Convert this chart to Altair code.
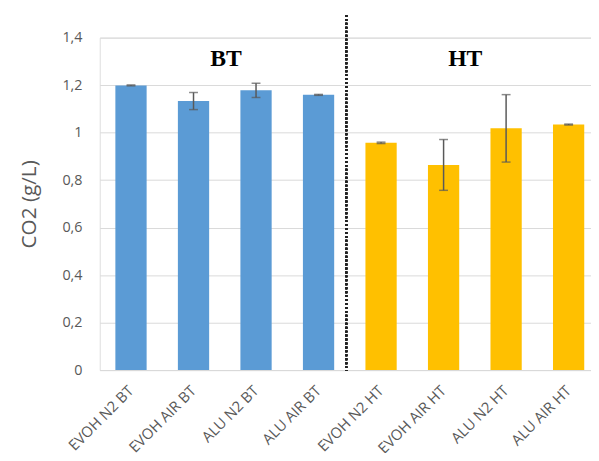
import altair as alt
import pandas as pd

categories = ["EVOH N2 BT", "EVOH AIR BT", "ALU N2 BT", "ALU AIR BT",
              "EVOH N2 HT", "EVOH AIR HT", "ALU N2 HT", "ALU AIR HT"]
groups = ["BT", "BT", "BT", "BT", "HT", "HT", "HT", "HT"]
co2 = [1.199, 1.133, 1.178, 1.159, 0.957, 0.864, 1.018, 1.034]
err = [0.002, 0.036, 0.030, 0.002, 0.003, 0.107, 0.142, 0.002]

group_labels = ["BT", "HT"]
group_label_cat = ["EVOH AIR BT", "EVOH AIR HT"]
group_label_y = [1.31, 1.31]

df = pd.DataFrame({"cat": categories, "grp": groups, "co2": co2, "err": err})
df["lo"] = df["co2"] - df["err"]
df["hi"] = df["co2"] + df["err"]

lab = pd.DataFrame({"txt": group_labels, "cat": group_label_cat, "y": group_label_y})

W, H = 507, 337
GRAY = "#595959"

xscale = alt.Scale(domain=categories, paddingInner=0.5, paddingOuter=0.25)
yscale = alt.Scale(domain=[0, 1.4], nice=False)

x = alt.X("cat:N", sort=categories, scale=xscale, title=None,
          axis=alt.Axis(labelAngle=-45, labelAlign="right", labelBaseline="middle",
                        labelPadding=18, ticks=False, domainColor="#d9d9d9",
                        labelColor=GRAY, labelFont="Open Sans", labelFontSize=15))

bars = alt.Chart(df).mark_bar().encode(
    x=x,
    y=alt.Y("co2:Q", scale=yscale, title="CO2 (g/L)",
            axis=alt.Axis(values=[0, 0.2, 0.4, 0.6, 0.8, 1.0, 1.2, 1.4],
                          labelExpr="replace(format(datum.value, '~g'), '.', ',')",
                          domain=False, ticks=False, gridColor="#d9d9d9",
                          labelPadding=18, labelColor=GRAY, labelFont="Open Sans",
                          labelFontSize=14.5, titleColor=GRAY, titleFont="Open Sans",
                          titleFontSize=21, titleFontWeight="normal",
                          titleX=-71, titleY=H / 2, titleAngle=-90,
                          titleAlign="center", titleBaseline="middle")),
    color=alt.Color("grp:N", scale=alt.Scale(domain=["BT", "HT"], range=["#5b9bd5", "#ffc000"]),
                    legend=None),
)

rules = alt.Chart(df).mark_rule(color=GRAY, strokeWidth=1.5).encode(
    x=alt.X("cat:N", sort=categories, scale=xscale),
    y=alt.Y("lo:Q", scale=yscale),
    y2="hi:Q",
)
caps_lo = alt.Chart(df).mark_tick(color=GRAY, thickness=1.5, size=9, orient="horizontal").encode(
    x=alt.X("cat:N", sort=categories, scale=xscale),
    y=alt.Y("lo:Q", scale=yscale),
)
caps_hi = alt.Chart(df).mark_tick(color=GRAY, thickness=1.5, size=9, orient="horizontal").encode(
    x=alt.X("cat:N", sort=categories, scale=xscale),
    y=alt.Y("hi:Q", scale=yscale),
)

divider = alt.Chart(df).mark_rule(color="#222222", strokeWidth=2, strokeDash=[2, 2]).encode(
    x=alt.value(250), y=alt.value(-23), y2=alt.value(H + 1),
)

text_style = dict(font="Liberation Serif", fontWeight="bold", fontSize=24,
                  color="black", baseline="middle")
text_bt = alt.Chart(lab).transform_filter(alt.datum.txt == "BT").mark_text(dx=33, **text_style).encode(
    x=alt.X("cat:N", sort=categories, scale=xscale),
    y=alt.Y("y:Q", scale=yscale),
    text="txt:N",
)
text_ht = alt.Chart(lab).transform_filter(alt.datum.txt == "HT").mark_text(dx=22, **text_style).encode(
    x=alt.X("cat:N", sort=categories, scale=xscale),
    y=alt.Y("y:Q", scale=yscale),
    text="txt:N",
)

chart = alt.layer(bars, rules, caps_lo, caps_hi, divider, text_bt, text_ht).properties(
    width=W, height=H,
    autosize=alt.AutoSizeParams(type="none"),
    padding={"left": 93, "top": 27, "right": -9, "bottom": 81},
).configure_view(stroke=None).configure(background="white")

chart.save("out.html", embed_options={"renderer": "svg", "actions": False})
